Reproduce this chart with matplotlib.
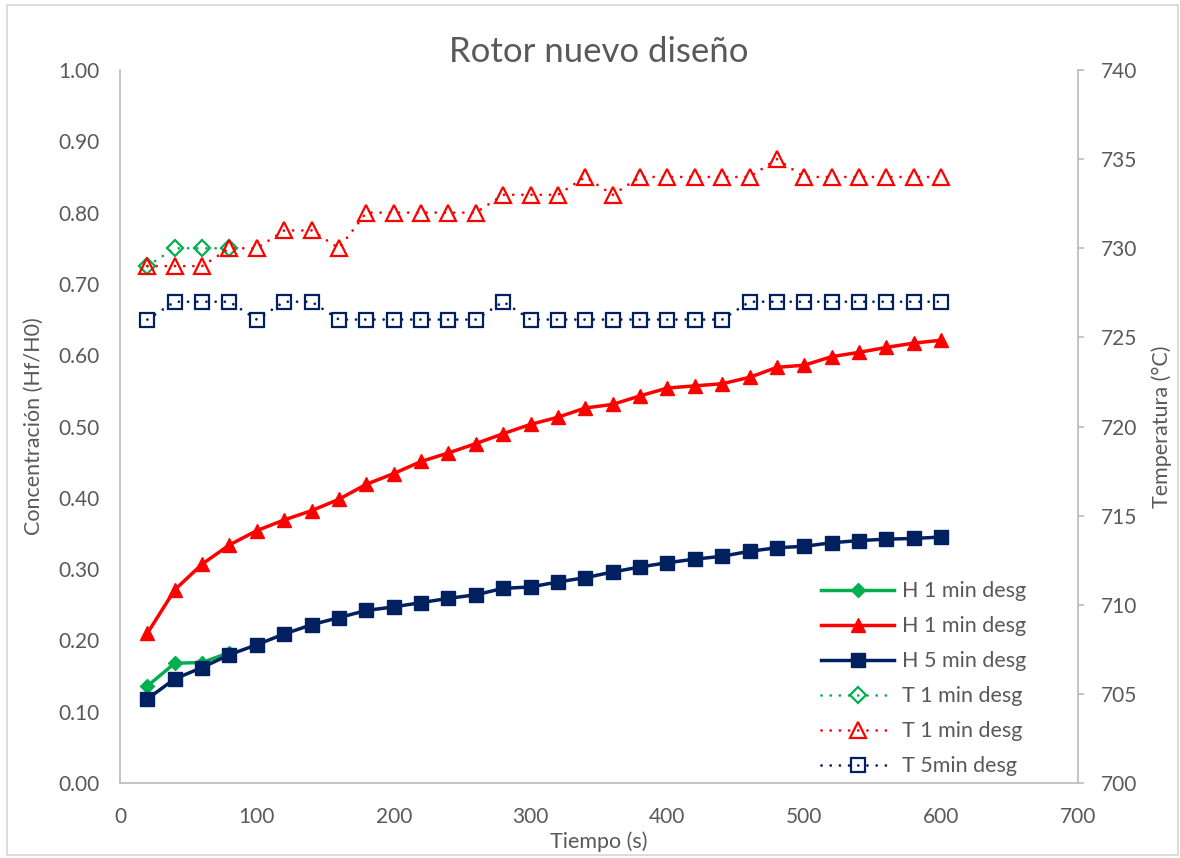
import matplotlib
matplotlib.use("Agg")
from matplotlib import pyplot as plt
from matplotlib.patches import Rectangle
from matplotlib.ticker import FormatStrFormatter

plt.rcParams['font.family'] = ['Lato', 'DejaVu Sans']

# tiempo (s)
tiempo = [20, 40, 60, 80, 100, 120, 140, 160, 180, 200, 220, 240, 260, 280, 300,
          320, 340, 360, 380, 400, 420, 440, 460, 480, 500, 520, 540, 560, 580, 600]

# concentración Hf/H0
h1_verde = [0.136, 0.168, 0.169, 0.183]
h1_rojo = [0.210, 0.271, 0.307, 0.334, 0.354, 0.369, 0.382, 0.398, 0.419, 0.434,
           0.451, 0.463, 0.476, 0.490, 0.503, 0.513, 0.526, 0.531, 0.543, 0.554,
           0.557, 0.560, 0.569, 0.583, 0.586, 0.598, 0.604, 0.611, 0.617, 0.621]
h5_azul = [0.118, 0.146, 0.162, 0.180, 0.194, 0.209, 0.222, 0.232, 0.242, 0.247,
           0.253, 0.259, 0.264, 0.273, 0.275, 0.282, 0.288, 0.296, 0.303, 0.309,
           0.314, 0.318, 0.325, 0.330, 0.332, 0.337, 0.340, 0.342, 0.343, 0.345]

# temperatura (°C)
t1_verde = [729, 730, 730, 730]
t1_rojo = [729, 729, 729, 730, 730, 731, 731, 730, 732, 732,
           732, 732, 732, 733, 733, 733, 734, 733, 734, 734,
           734, 734, 734, 735, 734, 734, 734, 734, 734, 734]
t5_azul = [726, 727, 727, 727, 726, 727, 727, 726, 726, 726,
           726, 726, 726, 727, 726, 726, 726, 726, 726, 726,
           726, 726, 727, 727, 727, 727, 727, 727, 727, 727]

etiquetas = ['H 1 min desg', 'H 1 min desg', 'H 5 min desg',
             'T 1 min desg', 'T 1 min desg', 'T 5min desg']

VERDE = '#00B050'
ROJO = '#FF0000'
AZUL = '#002060'
GRIS_TXT = '#595959'
GRIS_EJE = '#BFBFBF'

fig = plt.figure(figsize=(11.8, 8.58), dpi=100)
ax = fig.add_axes([0.1017, 0.0874, 0.8119, 0.8310])
ax2 = ax.twinx()

lw = 2.5
l1, = ax.plot(tiempo[:len(h1_verde)], h1_verde, color=VERDE, lw=lw, marker='D', ms=7.5)
l2, = ax.plot(tiempo, h1_rojo, color=ROJO, lw=lw, marker='^', ms=10)
l3, = ax.plot(tiempo, h5_azul, color=AZUL, lw=lw, marker='s', ms=9.5)

# series de temperatura: punteado redondo, marcadores huecos
punteado = dict(lw=2.0, linestyle=(0, (0.01, 3.3)), dash_capstyle='round',
                markerfacecolor='none', markeredgewidth=1.6)
l4, = ax2.plot(tiempo[:len(t1_verde)], t1_verde, color=VERDE, marker='D', ms=8, **punteado)
l5, = ax2.plot(tiempo, t1_rojo, color=ROJO, marker='^', ms=11, **punteado)
l6, = ax2.plot(tiempo, t5_azul, color=AZUL, marker='s', ms=10, **punteado)

ax.set_xlim(0, 700)
ax.set_ylim(0, 1.0)
ax2.set_ylim(700, 740)
ax.set_xticks(range(0, 701, 100))
ax.set_yticks([i / 10 for i in range(11)])
ax.yaxis.set_major_formatter(FormatStrFormatter('%.2f'))
ax2.set_yticks(range(700, 741, 5))

for a in (ax, ax2):
    for s in a.spines.values():
        s.set_visible(False)
ax.spines['left'].set_visible(True)
ax.spines['bottom'].set_visible(True)
ax2.spines['right'].set_visible(True)
for s in (ax.spines['left'], ax.spines['bottom'], ax2.spines['right']):
    s.set_color(GRIS_EJE)
    s.set_linewidth(1.3)

ax.tick_params(axis='x', length=0, pad=17, labelsize=15, labelcolor=GRIS_TXT)
ax.tick_params(axis='y', length=0, pad=15, labelsize=15, labelcolor=GRIS_TXT)
ax2.tick_params(axis='y', length=4.5, width=1.3, color=GRIS_EJE, pad=12,
                labelsize=15, labelcolor=GRIS_TXT)

ax.set_title('Rotor nuevo diseño', fontsize=25, color=GRIS_TXT, pad=6)
ax.set_xlabel('Tiempo (s)', fontsize=15.5, color=GRIS_TXT)
ax.set_ylabel('Concentración (Hf/H0)', fontsize=15.5, color=GRIS_TXT)
ax2.set_ylabel('Temperatura (°C)', fontsize=15.5, color=GRIS_TXT)
ax.xaxis.set_label_coords(0.5, -0.068)
ax.yaxis.set_label_coords(-0.080, 0.5)
ax2.yaxis.set_label_coords(1.077, 0.5)

leg = ax2.legend([l1, l2, l3, l4, l5, l6], etiquetas, loc='lower right',
                 bbox_to_anchor=(0.966, -0.018), frameon=False, fontsize=15.5,
                 labelcolor=GRIS_TXT, handlelength=3.4, handletextpad=0.35,
                 labelspacing=0.7)

fig.patches.append(Rectangle((0.006, 0.003), 0.992, 0.991, transform=fig.transFigure,
                             fill=False, edgecolor='#D9D9D9', linewidth=1.3))

fig.savefig('out.png', dpi=100)
